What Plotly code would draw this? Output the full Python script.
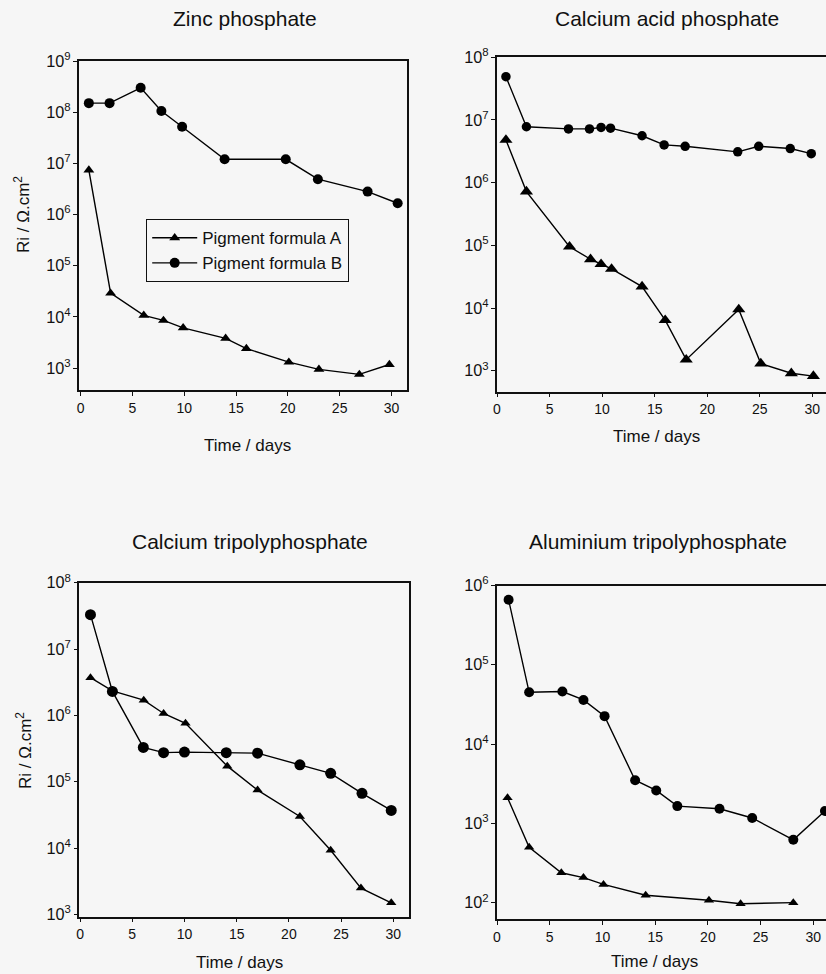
import plotly.graph_objects as go

# ---------------- data ----------------
zinc_days_A = [0.8, 2.9, 6.1, 8.0, 9.9, 14.0, 16.0, 20.1, 23.0, 26.9, 29.8]
zinc_ri_A = [7.4e6, 2.9e4, 1.07e4, 8.5e3, 6.1e3, 3.8e3, 2.4e3, 1.3e3, 940, 750, 1.17e3]
zinc_days_B = [0.8, 2.8, 5.8, 7.8, 9.8, 13.9, 19.8, 22.9, 27.7, 30.6]
zinc_ri_B = [1.5e8, 1.5e8, 3.0e8, 1.05e8, 5.2e7, 1.2e7, 1.2e7, 4.9e6, 2.8e6, 1.66e6]

cap_days_A = [0.85, 2.8, 6.9, 8.9, 9.9, 10.9, 13.8, 16.0, 18.0, 23.0, 25.1, 28.0, 30.1]
cap_ri_A = [4.8e6, 7.2e5, 9.5e4, 6.0e4, 5.0e4, 4.2e4, 2.2e4, 6.4e3, 1.5e3, 9.5e3, 1.3e3, 910, 820]
cap_days_B = [0.85, 2.8, 6.8, 8.8, 9.9, 10.8, 13.8, 15.9, 17.9, 22.9, 24.9, 27.9, 29.9]
cap_ri_B = [4.9e7, 7.8e6, 7.2e6, 7.2e6, 7.6e6, 7.4e6, 5.6e6, 4.0e6, 3.8e6, 3.1e6, 3.8e6, 3.5e6, 2.9e6]

ctp_days_A = [1.0, 3.1, 6.1, 8.0, 10.1, 14.1, 17.0, 21.05, 24.0, 26.9, 29.8]
ctp_ri_A = [3.7e6, 2.35e6, 1.7e6, 1.07e6, 7.6e5, 1.72e5, 7.5e4, 3.0e4, 9.3e3, 2.5e3, 1.5e3]
ctp_days_B = [1.0, 3.1, 6.06, 8.0, 10.0, 14.0, 17.0, 21.05, 24.0, 27.0, 29.8]
ctp_ri_B = [3.3e7, 2.3e6, 3.3e5, 2.75e5, 2.8e5, 2.75e5, 2.7e5, 1.8e5, 1.34e5, 6.7e4, 3.7e4]

atp_days_A = [1.0, 3.05, 6.1, 8.2, 10.1, 14.1, 20.1, 23.1, 28.1]
atp_ri_A = [2.1e3, 500, 238, 207, 170, 124, 107, 97, 100]
atp_days_B = [1.1, 3.05, 6.2, 8.2, 10.2, 13.1, 15.1, 17.1, 21.1, 24.2, 28.1, 31.1]
atp_ri_B = [6.6e5, 4.5e4, 4.6e4, 3.6e4, 2.25e4, 3.5e3, 2.6e3, 1.65e3, 1.53e3, 1.17e3, 620, 1.43e3]

panel_titles = ["Zinc phosphate", "Calcium acid phosphate",
                "Calcium tripolyphosphate", "Aluminium tripolyphosphate"]
series_names = ["Pigment formula A", "Pigment formula B"]
x_title = "Time / days"
y_title = "Ri / \u03a9.cm<sup>2</sup>"

# ---------------- layout helpers ----------------
W, H = 826, 974
FONT = "Liberation Sans, Arial, sans-serif"
BG = "#f6f6f6"


def px_x(p):
    return p / W


def px_y(p):
    return 1 - p / H


panels = [
    dict(xd=(79, 407), yd=(61, 390), xr=[-0.15, 31.5], yr=[2.57, 9],
         A=(zinc_days_A, zinc_ri_A), B=(zinc_days_B, zinc_ri_B), ts=9.5, cs=10),
    dict(xd=(497, 826), yd=(57.3, 391.7), xr=[0, 31.3], yr=[2.665, 8],
         A=(cap_days_A, cap_ri_A), B=(cap_days_B, cap_ri_B), ts=11.5, cs=9.5),
    dict(xd=(79.3, 409), yd=(582.7, 916.5), xr=[-0.07, 31.5], yr=[2.97, 8],
         A=(ctp_days_A, ctp_ri_A), B=(ctp_days_B, ctp_ri_B), ts=9, cs=11),
    dict(xd=(497, 826), yd=(585.5, 919.3), xr=[0, 31.2], yr=[1.79, 6],
         A=(atp_days_A, atp_ri_A), B=(atp_days_B, atp_ri_B), ts=9, cs=10),
]

fig = go.Figure()
layout = {}
for i, p in enumerate(panels):
    n = "" if i == 0 else str(i + 1)
    xa, ya = "x" + n, "y" + n
    for key, sym, size in (("A", "triangle-up", p["ts"]), ("B", "circle", p["cs"])):
        xs, ys = p[key]
        fig.add_trace(go.Scatter(
            x=xs, y=ys, xaxis=xa, yaxis=ya, mode="lines+markers",
            name=series_names[0] if key == "A" else series_names[1],
            showlegend=(i == 0),
            line=dict(color="black", width=1.4),
            marker=dict(symbol=sym, size=size, color="black"),
            cliponaxis=False,
        ))
    common = dict(showline=True, mirror=True, linecolor="#111", linewidth=1.5,
                  ticks="outside", ticklen=4, tickwidth=1.2, tickcolor="#111",
                  showgrid=False, zeroline=False, automargin=False)
    layout["xaxis" + n] = dict(
        domain=[px_x(p["xd"][0]), px_x(p["xd"][1])], range=p["xr"],
        anchor=ya, tickmode="array", tickvals=[0, 5, 10, 15, 20, 25, 30],
        tickfont=dict(size=14, family=FONT, color="#111"), **common)
    layout["yaxis" + n] = dict(
        domain=[px_y(p["yd"][1]), px_y(p["yd"][0])], range=p["yr"], type="log",
        anchor=xa, dtick=1, exponentformat="power",
        tickfont=dict(size=13, family=FONT, color="#111"), **common)

annotations = []
title_pos = [(245, 19), (667, 19), (250, 541), (658, 541)]
for t, (cx, cy) in zip(panel_titles, title_pos):
    annotations.append(dict(text=t, x=px_x(cx), y=px_y(cy), xref="paper", yref="paper",
                            xanchor="center", yanchor="middle", showarrow=False,
                            font=dict(size=21, family=FONT, color="#111")))
for cx, cy in [(247, 446), (656, 437), (240, 962), (654, 961)]:
    annotations.append(dict(text=x_title, x=px_x(cx), y=px_y(cy), xref="paper", yref="paper",
                            xanchor="center", yanchor="middle", showarrow=False,
                            font=dict(size=17, family=FONT, color="#111")))
for cx, cy in [(22, 215), (24, 751)]:
    annotations.append(dict(text=y_title, x=px_x(cx), y=px_y(cy), xref="paper", yref="paper",
                            xanchor="center", yanchor="middle", showarrow=False, textangle=-90,
                            font=dict(size=17, family=FONT, color="#111")))

fig.update_layout(
    width=W, height=H, margin=dict(l=0, r=0, t=0, b=0, autoexpand=False),
    autosize=False,
    paper_bgcolor=BG, plot_bgcolor=BG,
    font=dict(family=FONT, color="#111"),
    annotations=annotations,
    legend=dict(x=px_x(146), y=px_y(219), xanchor="left", yanchor="top",
                bordercolor="#111", borderwidth=1.2, bgcolor=BG,
                font=dict(size=17, family=FONT, color="#111"),
                itemwidth=45, tracegroupgap=0),
    **layout,
)

fig.write_html("out.html")
